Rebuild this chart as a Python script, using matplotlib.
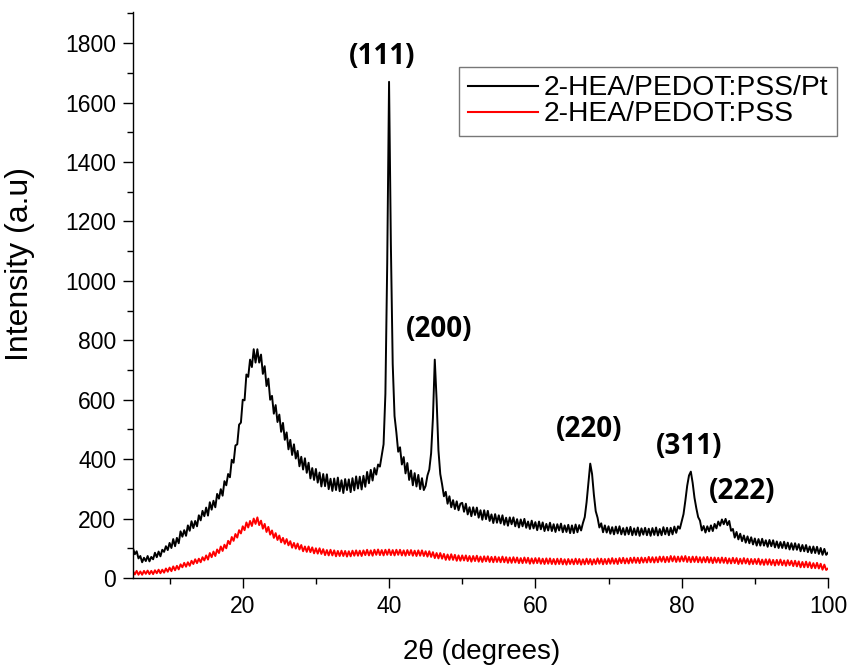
import numpy as np
import matplotlib
matplotlib.use("Agg")
import matplotlib.pyplot as plt
from matplotlib.ticker import MultipleLocator

# 2-theta grid: 5 .. 100 deg, step 0.25
two_theta_start = 5.0
two_theta_step = 0.25

# 2-HEA/PEDOT:PSS/Pt (black), values (noisy trace)
pt_values = [
    100, 80, 90, 66, 74, 53, 68, 57, 74, 56, 71, 63, 85, 70, 89, 73, 95, 88, 107, 94,
    118, 101, 131, 107, 135, 117, 157, 139, 161, 142, 177, 159, 191, 168, 192, 174, 211, 194, 226, 208,
    237, 210, 255, 230, 260, 238, 283, 267, 299, 277, 326, 312, 350, 339, 398, 388, 446, 450, 516, 523,
    600, 598, 685, 677, 735, 710, 770, 725, 770, 725, 752, 687, 713, 646, 671, 600, 613, 553, 582, 525,
    550, 492, 522, 465, 490, 433, 465, 414, 450, 402, 428, 376, 408, 365, 403, 354, 388, 335, 370, 330,
    367, 321, 355, 308, 350, 309, 349, 299, 334, 293, 335, 296, 338, 292, 329, 286, 333, 296, 332, 289,
    336, 295, 342, 301, 341, 298, 344, 307, 357, 319, 364, 328, 370, 348, 382, 375, 413, 450, 620, 1060,
    1670, 1120, 720, 545, 490, 425, 440, 382, 407, 352, 387, 330, 362, 312, 353, 308, 347, 299, 336, 296,
    310, 345, 365, 420, 540, 735, 600, 430, 350, 315, 275, 290, 250, 275, 238, 262, 232, 258, 228, 250,
    253, 223, 250, 214, 238, 208, 238, 212, 237, 203, 228, 196, 228, 198, 226, 192, 214, 185, 215, 186,
    211, 184, 211, 179, 203, 176, 204, 181, 204, 174, 198, 170, 197, 174, 199, 169, 190, 165, 193, 167,
    188, 161, 190, 164, 187, 158, 182, 160, 186, 158, 181, 155, 181, 160, 183, 154, 177, 155, 179, 151,
    177, 151, 180, 154, 178, 160, 185, 205, 255, 320, 385, 350, 280, 225, 203, 170, 184, 154, 177, 153,
    174, 149, 171, 147, 173, 150, 174, 147, 168, 145, 170, 147, 172, 144, 167, 145, 170, 142, 167, 146,
    169, 144, 166, 142, 168, 145, 170, 143, 165, 144, 171, 147, 169, 144, 169, 147, 173, 152, 174, 166,
    190, 215, 260, 310, 345, 358, 320, 270, 235, 205, 193, 160, 175, 153, 174, 157, 177, 158, 182, 167,
    190, 176, 197, 181, 199, 178, 192, 159, 165, 136, 155, 130, 149, 124, 143, 119, 140, 117, 137, 113,
    133, 109, 131, 109, 132, 109, 127, 105, 128, 107, 127, 103, 123, 101, 121, 101, 122, 99, 119, 96,
    117, 95, 117, 95, 114, 90, 111, 90, 111, 87, 106, 84, 106, 84, 105, 81, 101, 78, 98, 78,
    85,
]

# 2-HEA/PEDOT:PSS (red), values (noisy trace)
pss_values = [
    23, 12, 24, 11, 22, 11, 24, 14, 25, 13, 24, 13, 26, 16, 28, 16, 28, 18, 32, 21,
    35, 23, 39, 26, 41, 29, 46, 36, 51, 38, 53, 41, 58, 47, 63, 50, 65, 53, 70, 59,
    76, 62, 84, 70, 89, 74, 96, 84, 106, 91, 112, 100, 125, 114, 138, 125, 148, 136, 161, 150,
    174, 161, 187, 170, 192, 175, 200, 182, 204, 178, 193, 166, 182, 155, 172, 146, 160, 135, 151, 128,
    143, 120, 135, 115, 131, 110, 124, 102, 118, 99, 116, 96, 111, 90, 106, 88, 106, 87, 103, 83,
    100, 82, 100, 81, 97, 77, 94, 76, 95, 76, 93, 73, 91, 74, 92, 74, 91, 72, 90, 73,
    92, 75, 93, 75, 92, 74, 93, 77, 95, 76, 93, 75, 95, 78, 96, 77, 94, 76, 95, 78,
    96, 77, 94, 76, 95, 78, 95, 76, 93, 75, 94, 77, 94, 75, 92, 74, 93, 75, 93, 74,
    90, 72, 90, 71, 87, 67, 84, 66, 84, 65, 81, 61, 79, 61, 80, 61, 78, 58, 76, 58,
    76, 59, 76, 57, 74, 55, 74, 57, 75, 55, 72, 54, 73, 56, 73, 54, 71, 53, 72, 54,
    70, 53, 72, 53, 70, 51, 69, 51, 70, 52, 69, 50, 67, 50, 69, 51, 68, 48, 66, 49,
    67, 50, 67, 48, 65, 47, 66, 48, 66, 47, 64, 46, 65, 47, 65, 46, 63, 45, 64, 47,
    63, 46, 65, 47, 64, 45, 63, 46, 65, 47, 64, 45, 63, 47, 66, 48, 65, 46, 64, 47,
    65, 48, 67, 48, 65, 47, 67, 50, 68, 49, 66, 49, 68, 51, 69, 51, 68, 50, 69, 52,
    68, 52, 71, 53, 70, 52, 70, 53, 72, 55, 72, 53, 71, 54, 74, 56, 73, 54, 72, 55,
    73, 56, 74, 54, 71, 53, 72, 54, 72, 53, 70, 52, 70, 53, 71, 52, 69, 50, 69, 52,
    68, 51, 69, 51, 68, 49, 66, 49, 68, 50, 67, 47, 65, 48, 67, 49, 65, 46, 64, 47,
    64, 47, 65, 45, 62, 44, 63, 45, 63, 44, 61, 42, 61, 44, 62, 43, 59, 41, 60, 43,
    58, 40, 58, 39, 56, 36, 54, 36, 55, 36, 53, 33, 50, 33, 51, 32, 48, 28, 45, 27,
    32,
]

series_labels = ["2-HEA/PEDOT:PSS/Pt", "2-HEA/PEDOT:PSS"]
series_colors = ["black", "#ff0000"]

peak_labels = ["(111)", "(200)", "(220)", "(311)", "(222)"]
peak_label_x = [39.0, 46.8, 67.3, 81.0, 88.2]
peak_label_y = [1754, 836, 499, 442, 290]

two_theta = two_theta_start + two_theta_step * np.arange(len(pt_values))

plt.rcParams['font.family'] = ['Liberation Sans', 'DejaVu Sans']

fig = plt.figure(figsize=(8.5, 6.66), dpi=100)
ax = fig.add_axes([133 / 850, 1 - 578 / 666, (828 - 133) / 850, (578 - 12) / 666])

ax.plot(two_theta, pt_values, color=series_colors[0], lw=1.4, label=series_labels[0])
ax.plot(two_theta, pss_values, color=series_colors[1], lw=1.4, label=series_labels[1])

for lab, lx, ly in zip(peak_labels, peak_label_x, peak_label_y):
    ax.text(lx, ly, lab, ha='center', va='center', fontsize=20, fontweight='bold',
            family=['Open Sans', 'DejaVu Sans'])

ax.set_xlim(5, 100)
ax.set_ylim(0, 1905)
ax.xaxis.set_minor_locator(MultipleLocator(10))
ax.yaxis.set_minor_locator(MultipleLocator(100))
ax.set_xticks([20, 40, 60, 80, 100])
ax.set_yticks(np.arange(0, 1801, 200))

for s in ['top', 'right']:
    ax.spines[s].set_visible(False)
for s in ['left', 'bottom']:
    ax.spines[s].set_linewidth(1.0)

ax.tick_params(axis='both', which='major', direction='out', length=7, width=1,
               labelsize=16.5, pad=5)
ax.tick_params(axis='both', which='minor', direction='out', length=4, width=1)

ax.set_ylabel("Intensity (a.u)", fontsize=23, va='center')
ax.yaxis.set_label_coords(-0.162, 0.555)
ax.set_xlabel("2\u03b8 (degrees)", fontsize=20, va='center')
ax.xaxis.set_label_coords(0.502, -0.131)

leg = ax.legend(loc='upper right', bbox_to_anchor=(837 / 850, 1 - 67 / 666),
                bbox_transform=fig.transFigure, fontsize=20.3, frameon=True,
                fancybox=False, edgecolor='#555555', handlelength=2.5,
                handletextpad=0.2, borderpad=0.3, labelspacing=0.0,
                borderaxespad=0)
leg.get_frame().set_linewidth(1.0)
for h in leg.get_lines():
    h.set_linewidth(1.5)

fig.savefig("out.png", dpi=100)
